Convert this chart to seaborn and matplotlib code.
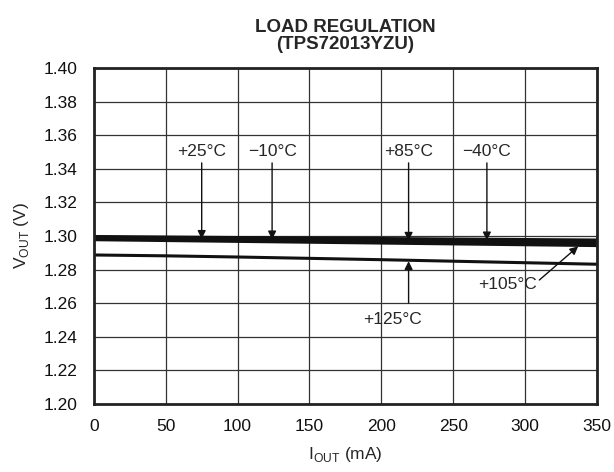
import numpy as np
import pandas as pd
import matplotlib
matplotlib.use("Agg")
import matplotlib.pyplot as plt
import seaborn as sns

# load current in mA
iout = [0, 50, 100, 150, 200, 250, 300, 350]

# output voltage per temperature
v_m40 = [1.2997, 1.2994, 1.2991, 1.2988, 1.2985, 1.2982, 1.2979, 1.2976]
v_m10 = [1.2993, 1.2989, 1.2986, 1.2982, 1.2978, 1.2974, 1.2970, 1.2966]
v_25 = [1.2988, 1.2984, 1.2980, 1.2976, 1.2972, 1.2967, 1.2963, 1.2959]
v_85 = [1.2983, 1.2979, 1.2974, 1.2969, 1.2964, 1.2960, 1.2955, 1.2950]
v_105 = [1.2978, 1.2973, 1.2968, 1.2963, 1.2958, 1.2953, 1.2948, 1.2943]
v_125 = [1.2887, 1.2882, 1.2875, 1.2867, 1.2859, 1.2850, 1.2841, 1.2832]

temps = ["-40", "-10", "+25", "+85", "+105", "+125"]
series = [v_m40, v_m10, v_25, v_85, v_105, v_125]

rows = []
for t, vals in zip(temps, series):
    for x, v in zip(iout, vals):
        rows.append({"iout": x, "vout": v, "temp": t})
df = pd.DataFrame(rows)

sns.set_style("white")
plt.rcParams["font.family"] = ["Liberation Sans", "DejaVu Sans"]

fig = plt.figure(figsize=(6.14, 4.72), dpi=100)
ax = fig.add_axes([0.153, 0.144, 0.819, 0.712])

sns.lineplot(data=df, x="iout", y="vout", units="temp", estimator=None,
             color="#111111", linewidth=2.2, ax=ax, legend=False)

ax.set_xlim(0, 350)
ax.set_ylim(1.20, 1.40)
ax.set_xticks(np.arange(0, 351, 50))
ax.set_yticks(np.arange(1.20, 1.401, 0.02))
ax.set_yticklabels([f"{v:.2f}" for v in np.arange(1.20, 1.401, 0.02)])
ax.grid(True, color="#333333", linewidth=0.9)
for s in ax.spines.values():
    s.set_visible(True)
    s.set_color("#222222")
    s.set_linewidth(2)
ax.tick_params(length=0, labelsize=12.5, colors="#111111")
ax.tick_params(axis="y", pad=12)
ax.tick_params(axis="x", pad=11)

ax.set_xlabel("I$_{\\mathregular{OUT}}$ (mA)", fontsize=12.5, labelpad=8)
ax.set_ylabel("V$_{\\mathregular{OUT}}$ (V)", fontsize=12.5, labelpad=9)
ax.set_title("LOAD REGULATION\n(TPS72013YZU)", fontsize=13.5, fontweight="bold",
             linespacing=0.95, pad=14)

arrow = dict(arrowstyle="-|>", color="#111111", lw=1, mutation_scale=12,
             shrinkA=0, shrinkB=0)
labels_top = [("+25°C", 75, 1.2983), ("\u221210°C", 124, 1.2980),
              ("+85°C", 219, 1.2972), ("\u221240°C", 273.5, 1.2974)]
for txt, x, y in labels_top:
    ax.annotate("", xy=(x, y), xytext=(x, 1.3435), arrowprops=arrow)
    ax.text(x, 1.3505, txt, ha="center", va="center", fontsize=12.5)

ax.annotate("", xy=(219, 1.2850), xytext=(219, 1.2601), arrowprops=arrow)
ax.text(208, 1.2506, "+125°C", ha="center", va="center", fontsize=12.5)

ax.annotate("", xy=(337, 1.2938), xytext=(310, 1.2738), arrowprops=arrow)
ax.text(288, 1.2709, "+105°C", ha="center", va="center", fontsize=12.5)

fig.savefig("out.png", dpi=100)
